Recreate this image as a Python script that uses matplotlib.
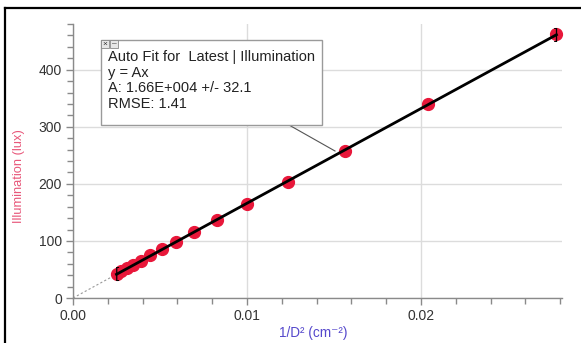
import numpy as np
import matplotlib
matplotlib.use("Agg")
import matplotlib.pyplot as plt
from matplotlib.lines import Line2D
from matplotlib.patches import Rectangle
from matplotlib.ticker import MultipleLocator


# 1/D^2 (cm^-2) and illumination (lux)
INV_D2 = [0.00250, 0.00277, 0.00309, 0.00346, 0.00391, 0.00444, 0.00510,
          0.00592, 0.00694, 0.00826, 0.01000, 0.01235, 0.01563, 0.02041,
          0.02778]
LUX = [42, 47, 52, 58, 65, 75, 86, 98, 116, 136, 164, 204, 257, 340, 462]

FIT_A = 1.66e4
FIT_LINES = [
    "Auto Fit for  Latest | Illumination",
    "y = Ax",
    "A: 1.66E+004 +/- 32.1",
    "RMSE: 1.41",
]

XTICKS = [0.0, 0.01, 0.02]
XTICK_LABELS = ["0.00", "0.01", "0.02"]
YTICKS = [0, 100, 200, 300, 400]

plt.rcParams["font.family"] = ["Liberation Sans", "DejaVu Sans"]

W, H = 581, 343
fig = plt.figure(figsize=(W / 100, H / 100), dpi=100)
ax = fig.add_axes([73 / W, 1 - 298 / H, (562 - 73) / W, (298 - 24) / H])

ax.set_xlim(0, 0.0281)
ax.set_ylim(0, 480)

gray = "#8a8a8a"
ax.grid(True, which="major", color="#dcdcdc", lw=1.0, zorder=0)
for s in ["top", "right"]:
    ax.spines[s].set_visible(False)
for s in ["left", "bottom"]:
    ax.spines[s].set_color(gray)
    ax.spines[s].set_linewidth(1.0)

ax.set_xticks(XTICKS)
ax.set_xticklabels(XTICK_LABELS)
ax.set_yticks(YTICKS)
ax.xaxis.set_minor_locator(MultipleLocator(0.002))
ax.yaxis.set_minor_locator(MultipleLocator(20))
ax.tick_params(which="major", direction="out", length=5, width=1, color=gray,
               labelsize=10, labelcolor="#333333", pad=3)
ax.tick_params(which="minor", direction="out", length=4, width=1, color=gray)

ax.set_xlabel("1/D\u00b2 (cm\u207b\u00b2)", color="#5548cc", fontsize=9.8)
ax.xaxis.set_label_coords((313 - 73) / (562 - 73), -(326 - 298) / 274)
ax.set_ylabel("Illumination (lux)", color="#e8577a", fontsize=9.3)
ax.yaxis.set_label_coords(-(73 - 25) / (562 - 73), (298 - 176) / 274)

x = np.array(INV_D2)
y = np.array(LUX)
ax.plot(x, y, "o", color="#e8173a", ms=8.5, zorder=3, clip_on=False)

# fit: dashed extrapolation to origin, solid over the data range
x0, x1 = x.min(), x.max()
ax.plot([0, x0], [0, FIT_A * x0], ls=(0, (2, 2)), color="#999999", lw=0.8,
        zorder=2)
ax.plot([x0, x1], [FIT_A * x0, FIT_A * x1], color="black", lw=2, zorder=4,
        clip_on=False)
ax.text(x0, FIT_A * x0, "[", fontsize=11, ha="center", va="center",
        color="black", zorder=5)
ax.text(x1, FIT_A * x1, "]", fontsize=11, ha="center", va="center",
        color="black", zorder=5)

# connector from the fit box to a point on the line
fig.add_artist(Line2D([289 / W, 335 / W], [1 - 125 / H, 1 - 151 / H],
                      color="#555555", lw=0.8, zorder=6))

# fit info box
bx0, by0, bx1, by1 = 101, 40, 322, 125
fig.add_artist(Rectangle((bx0 / W, 1 - by1 / H), (bx1 - bx0) / W,
                         (by1 - by0) / H, facecolor="white",
                         edgecolor="#9a9a9a", lw=1, zorder=7))
for i, lab in enumerate(["\u00d7", "\u2013"]):
    fig.add_artist(Rectangle(((bx0 + i * 9) / W, 1 - 48 / H), 8 / W, 8 / H,
                             facecolor="#e6e6e6", edgecolor="#888888",
                             lw=0.6, zorder=8))
    fig.text((bx0 + 4 + i * 9) / W, 1 - 44 / H, lab, fontsize=6,
             ha="center", va="center", color="#333333", zorder=9)
for i, line in enumerate(FIT_LINES):
    fig.text(108 / W, 1 - (57 + i * 15.7) / H, line, fontsize=10.5,
             color="#222222", va="center", ha="left", zorder=9)

# outer frame (top and left edges)
fig.add_artist(Line2D([4.5 / W, 4.5 / W], [0, 1 - 7.5 / H], color="black",
                      lw=1.6))
fig.add_artist(Line2D([4.5 / W, 1], [1 - 7.5 / H, 1 - 7.5 / H],
                      color="black", lw=1.6))

fig.savefig("out.png", dpi=100)
